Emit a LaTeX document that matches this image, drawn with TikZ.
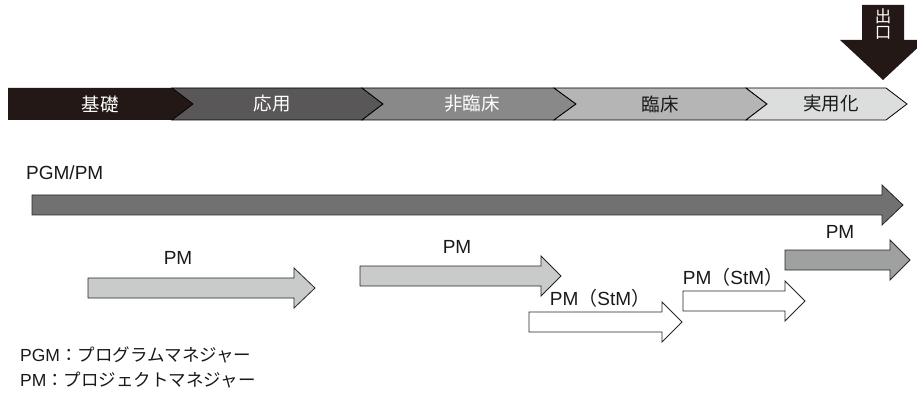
\documentclass[tikz,border=0pt]{standalone}
\usepackage{fontspec}
\setmainfont{Liberation Sans}
\newfontfamily\jp{Noto Sans CJK JP}
\definecolor{cA}{HTML}{231815}
\definecolor{cB}{HTML}{595757}
\definecolor{cC}{HTML}{898989}
\definecolor{cD}{HTML}{B5B5B6}
\definecolor{cE}{HTML}{DCDDDD}
\definecolor{cPGM}{HTML}{727171}
\definecolor{cLight}{HTML}{C9CACA}
\definecolor{cMid}{HTML}{9FA0A0}
\newcommand\blkarrow[7]{%
  \draw[arrowline, fill=#7] (#1,#4-#5) -- (#2,#4-#5) -- (#2,#4-#6) -- (#3,#4)
    -- (#2,#4+#6) -- (#2,#4+#5) -- (#1,#4+#5) -- cycle;}
\begin{document}
\begin{tikzpicture}[x=1pt,y=-1pt,
  arrowline/.style={draw=black!85, line width=0.8pt, line join=miter},
  seg/.style={draw=black, line width=0.8pt, line join=miter},
  bandtext/.style={font=\jp\fontsize{18.5}{20}\selectfont, inner sep=0pt},
  lbl/.style={font=\fontsize{19}{21}\selectfont, inner sep=0pt, text=black!90},
  legend/.style={font=\fontsize{17.5}{19}\selectfont, inner sep=0pt, anchor=west, text=black!90}]
\useasboundingbox (0,0) rectangle (917,395);
% exit arrow
\fill[cA] (862,5) -- (904,5) -- (904,40) -- (926,40) -- (883,80) -- (840,40) -- (862,40) -- cycle;
\node[font=\jp\fontsize{16.5}{16.5}\selectfont, text=white, inner sep=0pt, align=center] (exit) at (883,24) {出\\[-1pt]口};
% band segments
\fill[cA] (8,88) -- (172,88) -- (193,104) -- (172,120) -- (8,120) -- cycle;
\path[seg, fill=cB] (172,88) -- (362,88) -- (383,104) -- (362,120) -- (172,120) -- (193,104) -- cycle;
\path[seg, fill=cC] (362,88) -- (554,88) -- (576,104) -- (554,120) -- (362,120) -- (383,104) -- cycle;
\path[seg, fill=cD] (554,88) -- (746,88) -- (767,104) -- (746,120) -- (554,120) -- (576,104) -- cycle;
\path[seg, fill=cE] (746,88) -- (886,88) -- (907,104) -- (886,120) -- (746,120) -- (767,104) -- cycle;
\node[bandtext, text=white] (s1) at (100,104) {基礎};
\node[bandtext, text=white] (s2) at (272,104) {応用};
\node[bandtext, text=white] (s3) at (472,104) {非臨床};
\node[bandtext, text=black!90] (s4) at (660,104) {臨床};
\node[bandtext, text=black!90] (s5) at (831,104) {実用化};
% PGM/PM arrow
\node[lbl, anchor=west] (pgmlbl) at (26,173) {PGM/PM};
\blkarrow{32}{882}{903}{205}{10}{20}{cPGM}
% PM arrows
\blkarrow{88}{294}{315}{288}{10}{20}{cLight}
\node[lbl] (pm1) at (178,258) {PM};
\blkarrow{360}{541}{561}{276}{10}{20}{cLight}
\node[lbl] (pm2) at (457,247) {PM};
\blkarrow{529}{662}{682}{322}{10}{20}{white}
\node[lbl] (stm1) at (600,298) {PM{\jp（}StM{\jp）}};
\blkarrow{683}{785}{805}{301}{10}{20}{white}
\node[lbl] (stm2) at (733,277) {PM{\jp（}StM{\jp）}};
\blkarrow{785}{890}{910}{260}{10}{20}{cMid}
\node[lbl] (pm3) at (840,232) {PM};
% legend
\node[legend] (leg1) at (20,355) {PGM{\jp：プログラムマネジャー}};
\node[legend] (leg2) at (20,380) {PM{\jp：プロジェクトマネジャー}};
\end{tikzpicture}
\end{document}
